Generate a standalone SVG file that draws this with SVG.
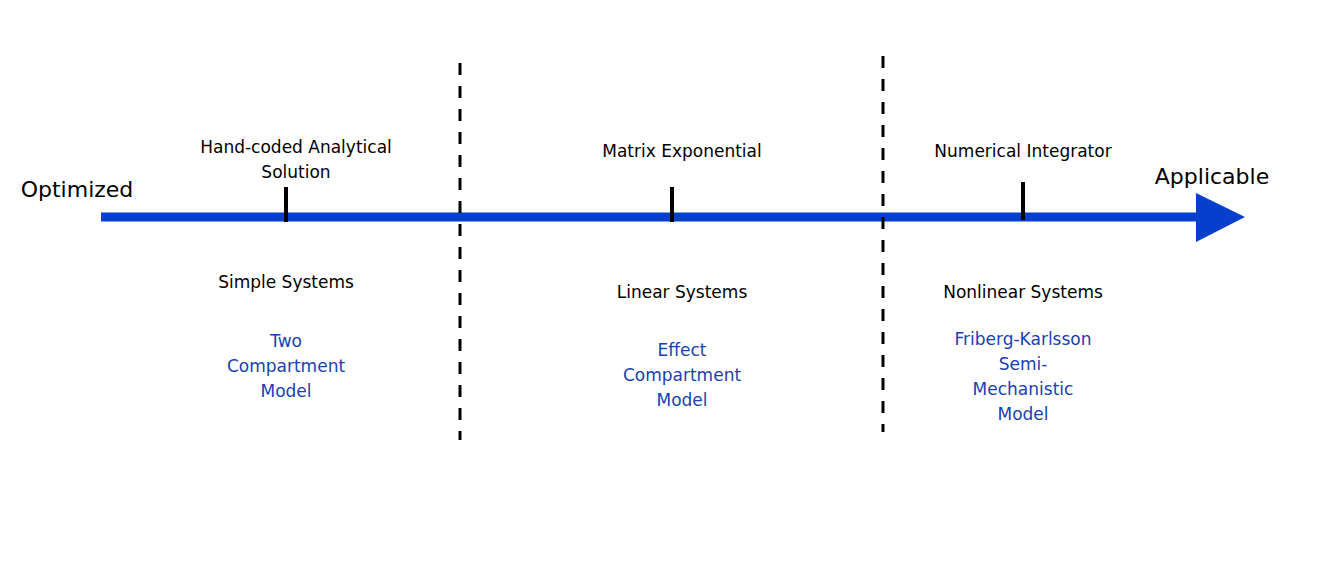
<svg xmlns="http://www.w3.org/2000/svg" width="1338" height="562" viewBox="0 0 1338 562">
<style>
text{font-family:"DejaVu Sans","Noto Sans",sans-serif;text-anchor:middle;fill:#000}
.lbl{font-size:17px}
.big{font-size:22px}
.ex{font-size:17px;fill:#1a3fb0}
.tick{stroke:#000;stroke-width:4}
.div{stroke:#000;stroke-width:3;stroke-dasharray:12 11}
</style>
<rect width="1338" height="562" fill="#fff"/>
<g id="connectors">
<line x1="101" y1="217" x2="1200" y2="217" stroke="#0540CC" stroke-width="9"/>
<polygon points="1196,193 1245,217 1196,242" fill="#0540CC"/>
<line class="div" x1="460" y1="63" x2="460" y2="440"/>
<line class="div" x1="883" y1="56" x2="883" y2="432"/>
<line class="tick" x1="286" y1="187" x2="286" y2="222"/>
<line class="tick" x1="672" y1="187" x2="672" y2="222"/>
<line class="tick" x1="1023" y1="182" x2="1023" y2="220"/>
</g>
<g id="optimized"><text class="big" x="77" y="197">Optimized</text></g>
<g id="applicable"><text class="big" x="1212" y="184">Applicable</text></g>
<g id="analytical">
<text class="lbl" x="296" y="153">Hand-coded Analytical</text>
<text class="lbl" x="296" y="178">Solution</text>
</g>
<g id="matrix"><text class="lbl" x="682" y="157">Matrix Exponential</text></g>
<g id="numerical"><text class="lbl" x="1023" y="157">Numerical Integrator</text></g>
<g id="simple">
<text class="lbl" x="286" y="288">Simple Systems</text>
<text class="ex" x="286" y="347">Two</text>
<text class="ex" x="286" y="372">Compartment</text>
<text class="ex" x="286" y="397">Model</text>
</g>
<g id="linear">
<text class="lbl" x="682" y="298">Linear Systems</text>
<text class="ex" x="682" y="356">Effect</text>
<text class="ex" x="682" y="381">Compartment</text>
<text class="ex" x="682" y="406">Model</text>
</g>
<g id="nonlinear">
<text class="lbl" x="1023" y="298">Nonlinear Systems</text>
<text class="ex" x="1023" y="345">Friberg-Karlsson</text>
<text class="ex" x="1023" y="370">Semi-</text>
<text class="ex" x="1023" y="395">Mechanistic</text>
<text class="ex" x="1023" y="420">Model</text>
</g>
</svg>
